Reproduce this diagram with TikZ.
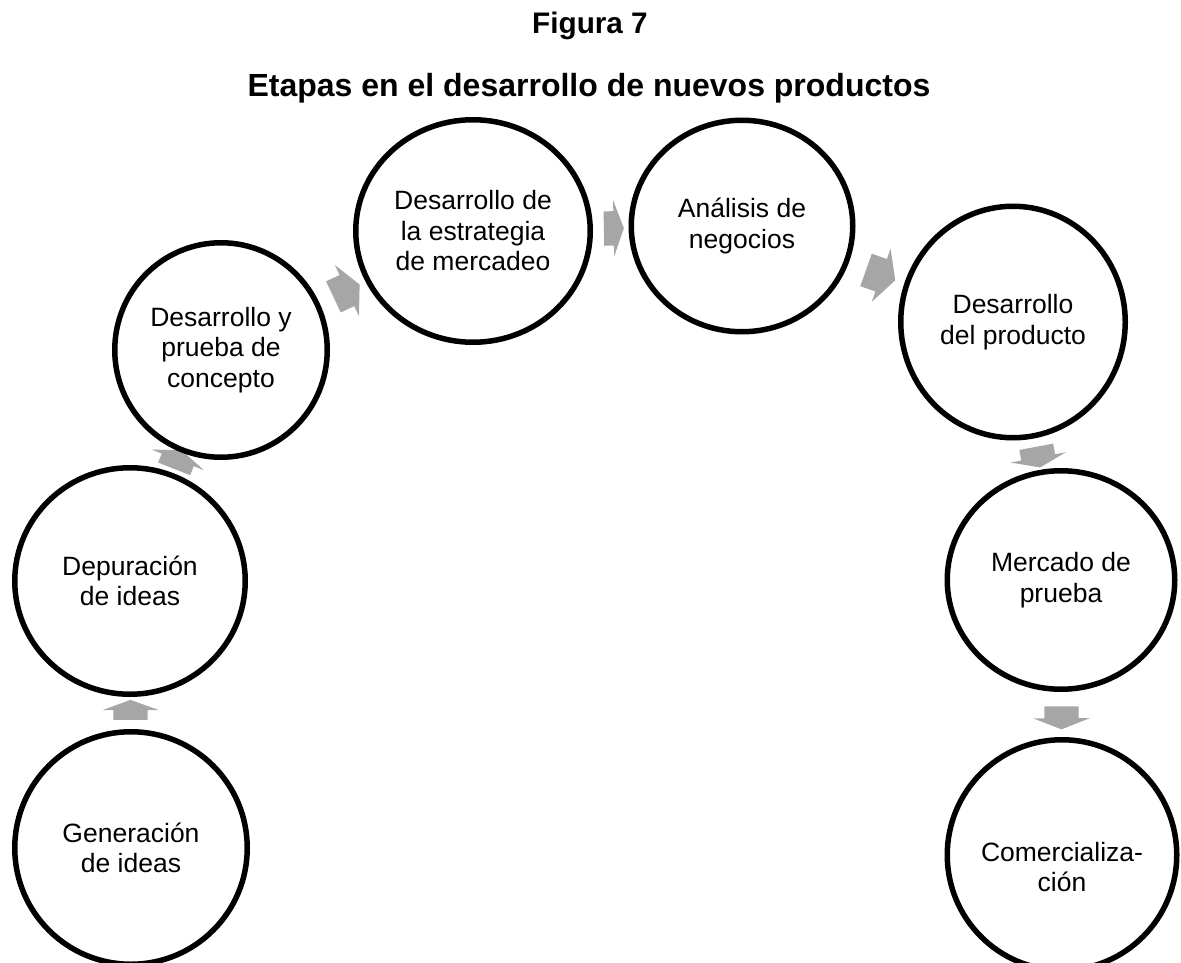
\documentclass[tikz,border=0pt]{standalone}
\usepackage{fontspec}
\setmainfont{Liberation Sans}
\usetikzlibrary{shapes.geometric,shapes.arrows}
\definecolor{arrowgray}{HTML}{A6A6A6}
\pgfdeclarelayer{behind}
\pgfsetlayers{behind,main}
\tikzset{
  stage/.style={ellipse, draw=black, line width=5.5pt, fill=white, inner sep=0pt},
  stagetext/.style={align=center, font=\fontsize{26.5}{30.5}\selectfont, inner sep=0pt},
  titletext/.style={font=\bfseries\fontsize{#1}{36}\selectfont, inner sep=0pt, anchor=base},
  titletext/.default=31pt,
  flowarrow/.style={single arrow, fill=arrowgray, draw=none, inner sep=0pt,
    text height=34pt, text depth=0pt, text width=0pt,
    minimum width=56pt, single arrow head extend=11pt, minimum height=#1,
    single arrow tip angle=140, sloped, allow upside down, midway},
  flowarrow/.default=20pt
}
\begin{document}
\begin{tikzpicture}[x=1pt,y=-1pt]
\useasboundingbox (0,0) rectangle (1181,963);

% heading
\node[titletext=29.7] (fig) at (590,34) {Figura 7};
\node[titletext=32] (caption) at (589,97) {Etapas en el desarrollo de nuevos productos};

% stages
\node[stage, minimum width=232.5pt, minimum height=232.5pt] (g) at (131,848) {};
\node[stage, minimum width=230.5pt, minimum height=226.5pt] (d) at (130,581) {};
\node[stage, minimum width=212.5pt, minimum height=214.5pt] (c) at (221,350) {};
\node[stage, minimum width=234.5pt, minimum height=222.5pt] (e) at (473,231) {};
\node[stage, minimum width=221.5pt, minimum height=211.5pt] (a) at (742,226) {};
\node[stage, minimum width=224.5pt, minimum height=231.5pt] (p) at (1013,322) {};
\node[stage, minimum width=227.5pt, minimum height=218.5pt] (m) at (1061,580) {};
\node[stage, minimum width=229.5pt, minimum height=230.5pt] (k) at (1062,855) {};

\node[stagetext] (g-t) at (g) {Generación\\de ideas};
\node[stagetext] (d-t) at (d) {Depuración\\de ideas};
\node[stagetext] (c-t) at (c) {Desarrollo y\\prueba de\\concepto};
\node[stagetext] (e-t) at (e) {Desarrollo de\\la estrategia\\de mercadeo};
\node[stagetext] (a-t) at (a) {Análisis de\\negocios};
\node[stagetext] (p-t) at (p) {Desarrollo\\del producto};
\node[stagetext] (m-t) at (m) {Mercado de\\prueba};
\node[stagetext] (k-t) at ([yshift=-12pt]k.center) {Comercializa-\\ción};

% connectors, kept beneath the circles
\begin{pgfonlayer}{behind}
\path (g) -- (d) node[flowarrow=20pt] (arr1) {};
\path (d) -- (c) node[flowarrow=20pt] (arr2) {};
\path (c) -- (e) node[flowarrow=29pt, single arrow tip angle=127] (arr3) {};
\path (e) -- (a) node[flowarrow=20pt] (arr4) {};
\path (a) -- (p) node[flowarrow=31pt, single arrow tip angle=124] (arr5) {};
\path (p) -- (m) node[flowarrow=21pt] (arr6) {};
\path (m) -- (k) node[flowarrow=23pt, single arrow tip angle=137] (arr7) {};
\end{pgfonlayer}
\end{tikzpicture}
\end{document}
